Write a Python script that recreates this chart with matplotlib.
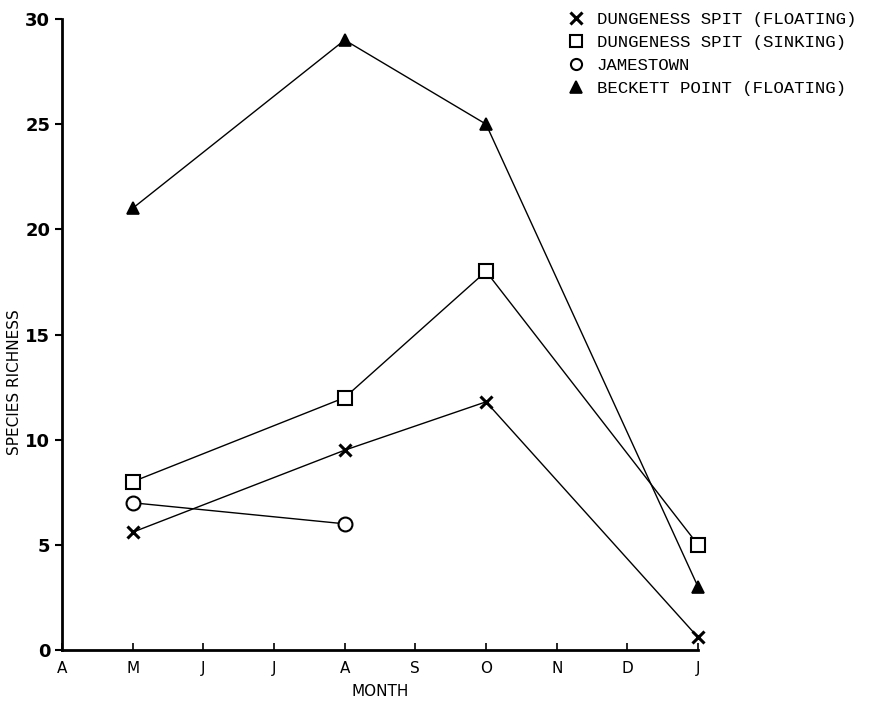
import matplotlib
matplotlib.use('Agg')
import matplotlib.pyplot as plt

# months along the x axis, April to January
months = ['A', 'M', 'J', 'J', 'A', 'S', 'O', 'N', 'D', 'J']

# species richness per site (x = month index)
dung_float_x = [1, 4, 6, 9]
dung_float_y = [5.6, 9.5, 11.8, 0.6]

dung_sink_x = [1, 4, 6, 9]
dung_sink_y = [8, 12, 18, 5]

jamestown_x = [1, 4]
jamestown_y = [7, 6]

beckett_x = [1, 4, 6, 9]
beckett_y = [21, 29, 25, 3]

fig = plt.figure(figsize=(8.69, 7.09), dpi=100)
ax = fig.add_axes([0.0713, 0.0832, 0.732, 0.890])

ax.plot(dung_float_x, dung_float_y, color='black', lw=1.0, marker='x', ms=9,
        mew=2.2, clip_on=False, label='DUNGENESS SPIT (FLOATING)')
ax.plot(dung_sink_x, dung_sink_y, color='black', lw=1.0, marker='s', ms=9.5,
        mfc='white', mew=1.5, clip_on=False, label='DUNGENESS SPIT (SINKING)')
ax.plot(jamestown_x, jamestown_y, color='black', lw=1.0, marker='o', ms=10,
        mfc='white', mew=1.5, clip_on=False, label='JAMESTOWN')
ax.plot(beckett_x, beckett_y, color='black', lw=1.0, marker='^', ms=8,
        mfc='black', mew=1.2, clip_on=False, label='BECKETT POINT (FLOATING)')

ax.set_xlim(0, 9)
ax.set_ylim(0, 30)
ax.set_xticks(range(len(months)))
ax.set_xticklabels(months, fontsize=11)
ax.set_yticks([0, 5, 10, 15, 20, 25, 30])
ax.tick_params(axis='y', labelsize=13, direction='out', length=5, width=1.5)
ax.tick_params(axis='x', direction='in', length=5, width=1.2, pad=8)
for lab in ax.get_yticklabels():
    lab.set_fontweight('bold')

ax.spines['top'].set_visible(False)
ax.spines['right'].set_visible(False)
ax.spines['left'].set_linewidth(2)
ax.spines['bottom'].set_linewidth(2)

ax.set_xlabel('MONTH', fontsize=11, labelpad=6)
ax.set_ylabel('SPECIES RICHNESS', fontsize=11)
ax.yaxis.set_label_coords(-0.063, 0.425)

leg = fig.legend(loc='upper left', bbox_to_anchor=(0.637, 1.005), frameon=False,
                 handlelength=0.8, handletextpad=0.8, labelspacing=0.45,
                 prop={'family': 'Liberation Mono', 'size': 12.5})
for h in leg.legend_handles:
    h.set_linestyle('none')
    h.set_markersize(8)

fig.savefig('out.png', dpi=100)
